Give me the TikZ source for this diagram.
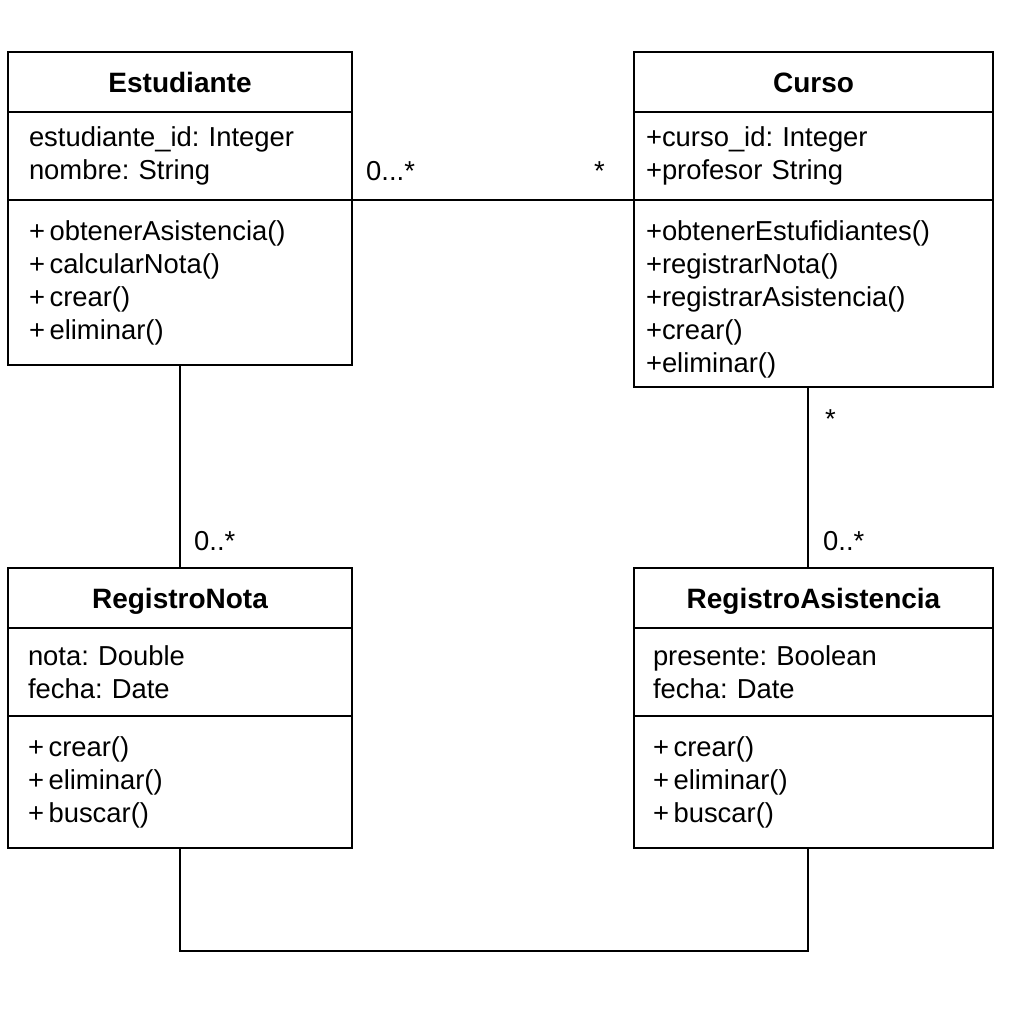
\documentclass[tikz,border=0pt]{standalone}
\usepackage{fontspec}
\setmainfont{Liberation Sans}
\frenchspacing
\usetikzlibrary{positioning}

\begin{document}
\begin{tikzpicture}[x=1pt,y=-1pt,line width=2.4pt,
head/.style={draw,rectangle,outer sep=0pt,minimum height=60pt,
    text height=21pt,text depth=0pt,
    font=\fontsize{28pt}{33pt}\selectfont\bfseries},
part/.style={draw,rectangle,outer sep=0pt,align=left,inner ysep=0pt,
    font=\fontsize{27.4pt}{33pt}\selectfont},
mult/.style={inner sep=0pt,font=\fontsize{27.4pt}{33pt}\selectfont}]
\fill[white] (0,0) rectangle (1024,1024);

\node (est) [head,minimum width=344pt] at (180,82) {Estudiante};
\node (estat) [part,below=0pt of est,minimum width=344pt,text width=302pt,
    minimum height=88pt] {estudiante\_id: Integer\\nombre: String};
\node (estop) [part,below=0pt of estat,minimum width=344pt,text width=302pt,
    minimum height=165pt] {+\,obtenerAsistencia()\\+\,calcularNota()\\+\,crear()\\+\,eliminar()};

\node (cur) [head,minimum width=359pt] at (813.5,82) {Curso};
\node (curat) [part,below=0pt of cur,minimum width=359pt,text width=335pt,
    minimum height=88pt] {+curso\_id: Integer\\+profesor String};
\node (curop) [part,below=0pt of curat,minimum width=359pt,text width=335pt,
    minimum height=187pt,text depth=126pt] {+obtenerEstufidiantes()\\+registrarNota()\\+registrarAsistencia()\\+crear()\\+eliminar()};

\node (nota) [head,minimum width=344pt] at (180,598) {RegistroNota};
\node (notaat) [part,below=0pt of nota,minimum width=344pt,text width=304pt,
    minimum height=88pt] {nota: Double\\fecha: Date};
\node (notaop) [part,below=0pt of notaat,minimum width=344pt,text width=304pt,
    minimum height=132pt] {+\,crear()\\+\,eliminar()\\+\,buscar()};

\node (asis) [head,minimum width=359pt] at (813.5,598) {RegistroAsistencia};
\node (asisat) [part,below=0pt of asis,minimum width=359pt,text width=321pt,
    minimum height=88pt] {presente: Boolean\\fecha: Date};
\node (asisop) [part,below=0pt of asisat,minimum width=359pt,text width=321pt,
    minimum height=132pt] {+\,crear()\\+\,eliminar()\\+\,buscar()};

\draw (estat.south east) --
    node [mult,pos=0,anchor=base west,xshift=13pt,yshift=19pt] {0...*}
    node [mult,pos=1,anchor=base east,xshift=-28pt,yshift=19pt] {*}
    (curat.south west);
\draw (estop.south) --
    node [mult,pos=1,anchor=base west,xshift=13pt,yshift=18pt] {0..*}
    (nota.north);
\draw ([xshift=-5.5pt]curop.south) --
    node [mult,pos=0,anchor=base west,xshift=16pt,yshift=-41pt] {*}
    node [mult,pos=1,anchor=base west,xshift=14pt,yshift=18pt] {0..*}
    ([xshift=-5.5pt]asis.north);
\draw (notaop.south) -- ++(0,103) -| ([xshift=-5.5pt]asisop.south);
\end{tikzpicture}
\end{document}
